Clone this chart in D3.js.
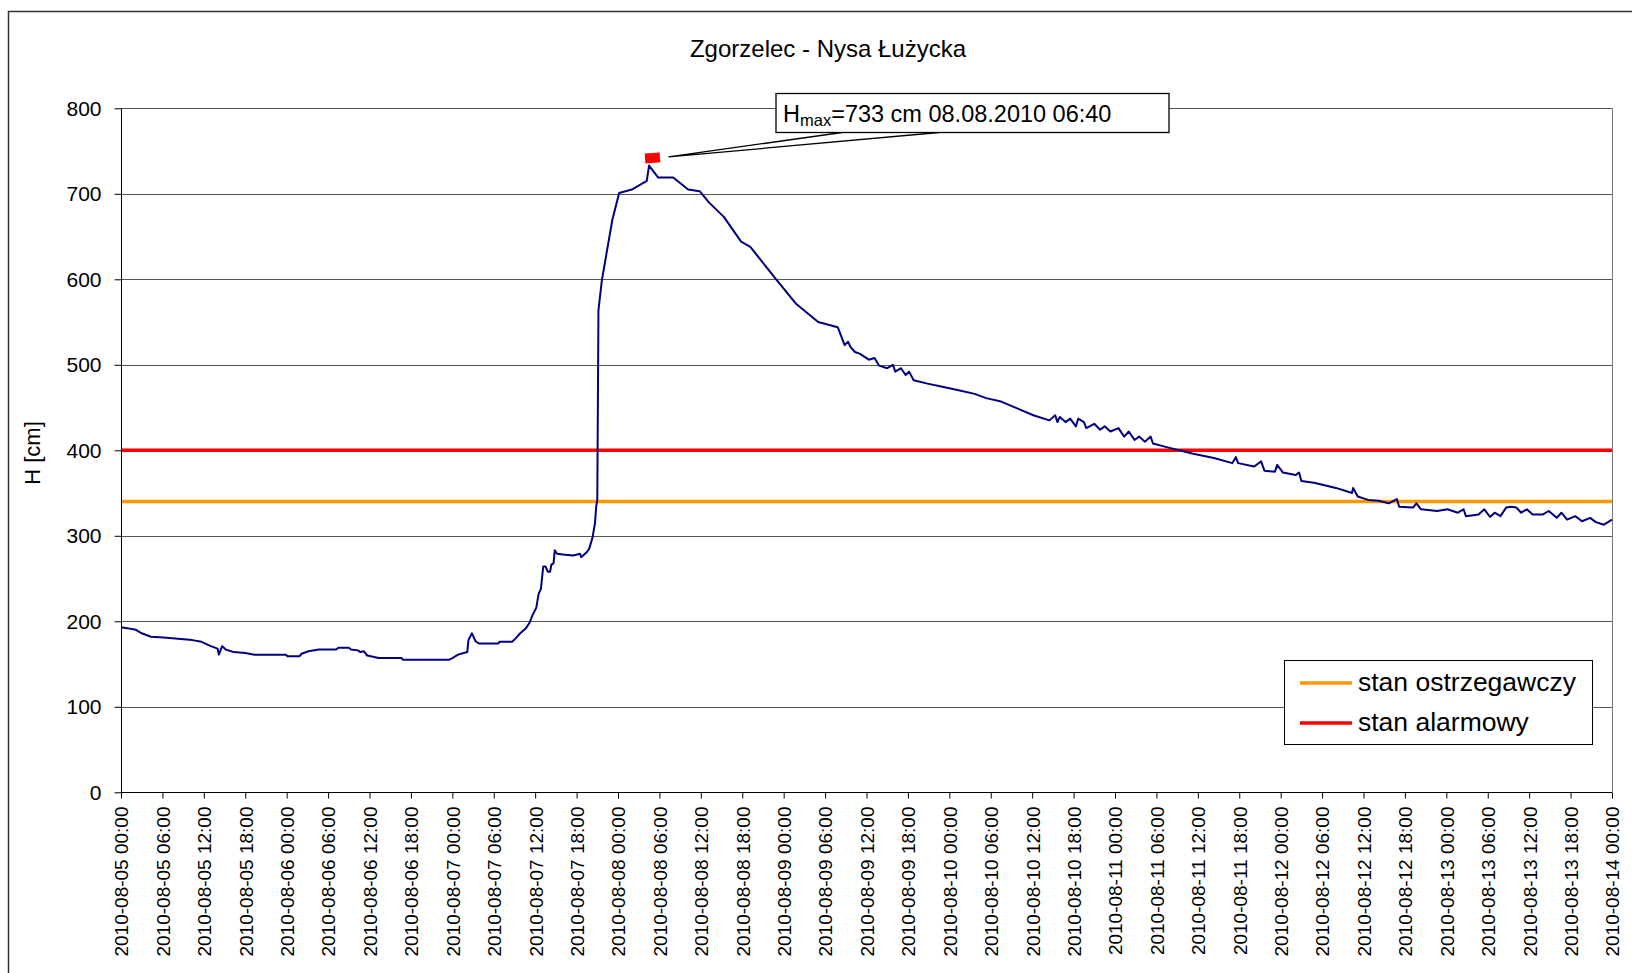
<!DOCTYPE html>
<html>
<head>
<meta charset="utf-8">
<script src="https://cdn.jsdelivr.net/npm/d3@7"></script>
<style>
    body { margin: 0; background: #fff; }
    text { font-family: "Liberation Sans", Arial, sans-serif; fill: #000; }
</style>
</head>
<body>
<svg width="1632" height="973"></svg>
<script>
// Zgorzelec - Nysa Łużycka, stan wody sierpień 2010
var times = [
    "2010-08-05 00:00", "2010-08-05 00:50", "2010-08-05 02:10", "2010-08-05 03:00", "2010-08-05 04:20",
    "2010-08-05 06:10", "2010-08-05 07:50", "2010-08-05 10:20", "2010-08-05 11:40", "2010-08-05 13:00",
    "2010-08-05 14:00", "2010-08-05 14:10", "2010-08-05 14:40", "2010-08-05 15:10", "2010-08-05 16:20",
    "2010-08-05 18:00", "2010-08-05 19:20", "2010-08-05 23:50", "2010-08-06 00:10", "2010-08-06 01:50",
    "2010-08-06 02:10", "2010-08-06 03:10", "2010-08-06 04:40", "2010-08-06 07:10", "2010-08-06 07:30",
    "2010-08-06 09:00", "2010-08-06 09:20", "2010-08-06 10:20", "2010-08-06 10:40", "2010-08-06 11:10",
    "2010-08-06 11:40", "2010-08-06 12:50", "2010-08-06 13:20", "2010-08-06 16:40", "2010-08-06 16:50",
    "2010-08-06 23:30", "2010-08-07 00:00", "2010-08-07 00:50", "2010-08-07 02:10", "2010-08-07 02:20",
    "2010-08-07 02:50", "2010-08-07 03:20", "2010-08-07 03:50", "2010-08-07 06:40", "2010-08-07 06:50",
    "2010-08-07 08:40", "2010-08-07 09:10", "2010-08-07 09:50", "2010-08-07 10:40", "2010-08-07 11:10",
    "2010-08-07 11:40", "2010-08-07 12:10", "2010-08-07 12:30", "2010-08-07 12:50", "2010-08-07 13:10",
    "2010-08-07 13:30", "2010-08-07 13:50", "2010-08-07 14:10", "2010-08-07 14:20", "2010-08-07 14:40",
    "2010-08-07 14:50", "2010-08-07 15:10", "2010-08-07 16:00", "2010-08-07 17:30", "2010-08-07 18:30",
    "2010-08-07 18:40", "2010-08-07 19:30", "2010-08-07 19:50", "2010-08-07 20:20", "2010-08-07 20:40",
    "2010-08-07 20:50", "2010-08-07 21:00", "2010-08-07 21:10", "2010-08-07 21:40", "2010-08-07 23:10",
    "2010-08-08 00:10", "2010-08-08 02:00", "2010-08-08 04:10", "2010-08-08 04:30", "2010-08-08 05:50",
    "2010-08-08 08:00", "2010-08-08 10:10", "2010-08-08 11:50", "2010-08-08 13:10", "2010-08-08 15:20",
    "2010-08-08 17:50", "2010-08-08 19:10", "2010-08-08 23:00", "2010-08-09 01:50", "2010-08-09 05:00",
    "2010-08-09 07:50", "2010-08-09 08:50", "2010-08-09 09:20", "2010-08-09 09:40", "2010-08-09 10:20",
    "2010-08-09 11:00", "2010-08-09 12:20", "2010-08-09 13:10", "2010-08-09 13:50", "2010-08-09 15:00",
    "2010-08-09 15:50", "2010-08-09 16:10", "2010-08-09 17:00", "2010-08-09 17:40", "2010-08-09 18:10",
    "2010-08-09 18:50", "2010-08-09 20:50", "2010-08-09 23:10", "2010-08-10 01:30", "2010-08-10 03:40",
    "2010-08-10 05:20", "2010-08-10 07:30", "2010-08-10 09:50", "2010-08-10 12:10", "2010-08-10 14:30",
    "2010-08-10 15:20", "2010-08-10 15:40", "2010-08-10 16:00", "2010-08-10 16:50", "2010-08-10 17:30",
    "2010-08-10 18:20", "2010-08-10 18:40", "2010-08-10 19:30", "2010-08-10 19:50", "2010-08-10 21:00",
    "2010-08-10 21:50", "2010-08-10 22:30", "2010-08-10 23:20", "2010-08-11 00:30", "2010-08-11 01:20",
    "2010-08-11 02:00", "2010-08-11 02:50", "2010-08-11 03:30", "2010-08-11 04:20", "2010-08-11 05:10",
    "2010-08-11 05:30", "2010-08-11 07:20", "2010-08-11 08:50", "2010-08-11 11:20", "2010-08-11 14:20",
    "2010-08-11 17:00", "2010-08-11 17:30", "2010-08-11 17:50", "2010-08-11 20:10", "2010-08-11 21:10",
    "2010-08-11 21:40", "2010-08-11 23:10", "2010-08-11 23:30", "2010-08-12 00:20", "2010-08-12 02:10",
    "2010-08-12 02:40", "2010-08-12 03:00", "2010-08-12 04:50", "2010-08-12 08:00", "2010-08-12 10:20",
    "2010-08-12 10:30", "2010-08-12 11:10", "2010-08-12 12:40", "2010-08-12 14:10", "2010-08-12 15:40",
    "2010-08-12 16:50", "2010-08-12 17:10", "2010-08-12 19:10", "2010-08-12 19:40", "2010-08-12 20:20",
    "2010-08-12 22:40", "2010-08-13 00:10", "2010-08-13 01:40", "2010-08-13 02:30", "2010-08-13 02:50",
    "2010-08-13 04:40", "2010-08-13 05:30", "2010-08-13 06:20", "2010-08-13 07:00", "2010-08-13 07:50",
    "2010-08-13 08:40", "2010-08-13 09:20", "2010-08-13 10:10", "2010-08-13 10:50", "2010-08-13 11:40",
    "2010-08-13 12:30", "2010-08-13 14:00", "2010-08-13 14:50", "2010-08-13 16:00", "2010-08-13 16:40",
    "2010-08-13 17:30", "2010-08-13 18:40", "2010-08-13 19:40", "2010-08-13 20:50", "2010-08-13 21:40",
    "2010-08-13 22:50", "2010-08-14 00:00"
];
var levels = [
    193, 192, 190, 186, 182,
    181, 180, 178, 176, 171,
    168, 161, 171, 167, 164,
    163, 161, 161, 159, 159,
    162, 165, 167, 167, 169,
    169, 167, 166, 164, 165,
    160, 158, 157, 157, 155,
    155, 157, 161, 164, 178,
    186, 177, 174, 174, 176,
    176, 180, 186, 192, 198,
    208, 216, 232, 238, 264,
    264, 258, 258, 266, 268,
    283, 279, 278, 277, 279,
    275, 281, 285, 299, 315,
    334, 342, 564, 599, 669,
    701, 705, 715, 733, 719,
    719, 705, 703, 690, 673,
    644, 638, 599, 571, 550,
    544, 523, 527, 521, 515,
    513, 506, 508, 499, 496,
    500, 492, 496, 488, 492,
    482, 478, 474, 470, 466,
    461, 457, 449, 441, 435,
    441, 433, 439, 433, 437,
    428, 437, 433, 426, 431,
    424, 428, 422, 426, 416,
    422, 412, 416, 410, 416,
    408, 404, 401, 396, 391,
    385, 392, 385, 381, 387,
    376, 375, 383, 374, 371,
    374, 364, 362, 356, 350,
    356, 346, 342, 341, 338,
    343, 334, 333, 338, 331,
    329, 331, 327, 331, 323,
    325, 331, 322, 327, 323,
    333, 334, 333, 327, 331,
    325, 325, 329, 321, 327,
    319, 323, 317, 321, 316,
    313, 319
];

// stany progowe
var thresholdNames = ["stan ostrzegawczy", "stan alarmowy"];
var thresholdLevels = [340, 400];
var thresholdColors = ["#FF9900", "#FF0000"];

var yTicks = [0, 100, 200, 300, 400, 500, 600, 700, 800];
var startTime = "2010-08-05 00:00";
var endTime = "2010-08-14 00:00";

// znacznik maksimum i opis
var maxMarkerTime = "2010-08-08 05:00";
var maxMarkerLevel = 742;
var maxLevel = 733;
var maxLabelTime = "08.08.2010 06:40";

var PLOT = {left: 121, right: 1612, top: 108.3, bottom: 792.3};

var parseTime = d3.timeParse("%Y-%m-%d %H:%M");
var fmtTime = d3.timeFormat("%Y-%m-%d %H:%M");

var data = times.map(function(t, i) {
    return {t: parseTime(t), v: levels[i]};
});

var svg = d3.select("svg");

// ramka wykresu
svg.append("rect")
    .attr("x", 8.5)
    .attr("y", 11.5)
    .attr("width", 1680)
    .attr("height", 1000)
    .attr("fill", "white")
    .attr("stroke", "#333")
    .attr("stroke-width", 1.5);

var x = d3.scaleTime()
    .domain([parseTime(startTime), parseTime(endTime)])
    .range([PLOT.left, PLOT.right]);

var y = d3.scaleLinear()
    .domain([0, 800])
    .range([PLOT.bottom, PLOT.top]);

// tytuł
svg.append("text")
    .attr("x", 828)
    .attr("y", 57)
    .attr("text-anchor", "middle")
    .attr("font-size", 24)
    .text("Zgorzelec - Nysa Łużycka");

// linie siatki
svg.append("g")
    .selectAll("line")
    .data(yTicks.slice(1))
    .enter()
    .append("line")
    .attr("x1", PLOT.left)
    .attr("x2", PLOT.right)
    .attr("y1", function(d){ return Math.round(y(d)) + 0.5; })
    .attr("y2", function(d){ return Math.round(y(d)) + 0.5; })
    .attr("stroke", "#555")
    .attr("stroke-width", 1);

// prawa krawędź obszaru
svg.append("line")
    .attr("x1", PLOT.right + 0.5)
    .attr("x2", PLOT.right + 0.5)
    .attr("y1", PLOT.top)
    .attr("y2", PLOT.bottom)
    .attr("stroke", "#777");

// oś Y
var yAxis = d3.axisLeft(y)
    .tickValues(yTicks)
    .tickSize(7)
    .tickPadding(13);
var gy = svg.append("g")
    .attr("transform", "translate(" + (PLOT.left + 0.5) + ",0)")
    .call(yAxis);
gy.select(".domain").attr("stroke", "#000").attr("d", "M0," + y(800) + "V" + y(0));
gy.selectAll(".tick line").attr("stroke", "#000");
gy.selectAll("text")
    .attr("font-size", 21)
    .attr("font-family", "Liberation Sans, Arial, sans-serif")
    .attr("fill", "#000");

// oś X
var xAxis = d3.axisBottom(x)
    .ticks(d3.timeHour.every(6))
    .tickFormat(fmtTime)
    .tickSize(6);
var gx = svg.append("g")
    .attr("transform", "translate(0," + (Math.round(PLOT.bottom) + 0.5) + ")")
    .call(xAxis);
gx.select(".domain").attr("stroke", "#000").attr("d", "M" + PLOT.left + ",0H" + PLOT.right);
gx.selectAll(".tick line").attr("stroke", "#000");
gx.selectAll("text")
    .attr("font-size", 19)
    .attr("font-family", "Liberation Sans, Arial, sans-serif")
    .attr("fill", "#000")
    .attr("text-anchor", "end")
    .attr("transform", "rotate(-90)")
    .attr("x", -14)
    .attr("y", 0)
    .attr("dy", "0.36em");

// etykieta osi Y
svg.append("text")
    .attr("transform", "translate(40,453) rotate(-90)")
    .attr("text-anchor", "middle")
    .attr("font-size", 22)
    .text("H [cm]");

// stany ostrzegawczy / alarmowy
svg.append("g")
    .selectAll("line")
    .data(thresholdLevels)
    .enter()
    .append("line")
    .attr("x1", PLOT.left + 1)
    .attr("x2", PLOT.right)
    .attr("y1", function(d){ return y(d); })
    .attr("y2", function(d){ return y(d); })
    .attr("stroke", function(d, i){ return thresholdColors[i]; })
    .attr("stroke-width", 3.5);

// przebieg stanu wody
var line = d3.line()
    .x(function(d){ return x(d.t); })
    .y(function(d){ return y(d.v); });

svg.append("path")
    .datum(data)
    .attr("d", line)
    .attr("fill", "none")
    .attr("stroke", "#000080")
    .attr("stroke-width", 2)
    .attr("stroke-linejoin", "round");

// znacznik maksimum
var mx = x(parseTime(maxMarkerTime));
var my = y(maxMarkerLevel);
svg.append("rect")
    .attr("x", mx - 7.5)
    .attr("y", my - 5)
    .attr("width", 15)
    .attr("height", 10)
    .attr("fill", "#FF0000")
    .attr("transform", "rotate(-4," + mx + "," + my + ")");

// dymek z opisem
var box = {x: 776, y: 93.5, w: 393, h: 39};
svg.append("path")
    .attr("d", "M" + 842 + "," + (box.y + box.h) + "L" + (mx + 16) + "," + (my - 1) + "L" + 939 + "," + (box.y + box.h))
    .attr("fill", "white")
    .attr("stroke", "#000")
    .attr("stroke-width", 1.3);
svg.append("rect")
    .attr("x", box.x)
    .attr("y", box.y)
    .attr("width", box.w)
    .attr("height", box.h)
    .attr("fill", "white")
    .attr("stroke", "#000")
    .attr("stroke-width", 1.3);
var lbl = svg.append("text")
    .attr("x", box.x + 7)
    .attr("y", 121.5)
    .attr("font-size", 23.5);
lbl.append("tspan").text("H");
lbl.append("tspan").attr("font-size", 16.5).attr("dy", 4).text("max");
lbl.append("tspan").attr("dy", -4).text("=" + maxLevel + " cm " + maxLabelTime);

// legenda
var legend = svg.append("g");
legend.append("rect")
    .attr("x", 1284.5)
    .attr("y", 660.5)
    .attr("width", 308)
    .attr("height", 84)
    .attr("fill", "white")
    .attr("stroke", "#000")
    .attr("stroke-width", 1);
var items = legend.selectAll(".item")
    .data(thresholdNames)
    .enter()
    .append("g")
    .attr("transform", function(d, i){ return "translate(0," + (683 + i * 40) + ")"; });
items.append("line")
    .attr("x1", 1300)
    .attr("x2", 1352)
    .attr("stroke", function(d, i){ return thresholdColors[i]; })
    .attr("stroke-width", 3.5);
items.append("text")
    .attr("x", 1358)
    .attr("y", 8)
    .attr("font-size", 26.5)
    .text(function(d){ return d; });
</script>
</body>
</html>
